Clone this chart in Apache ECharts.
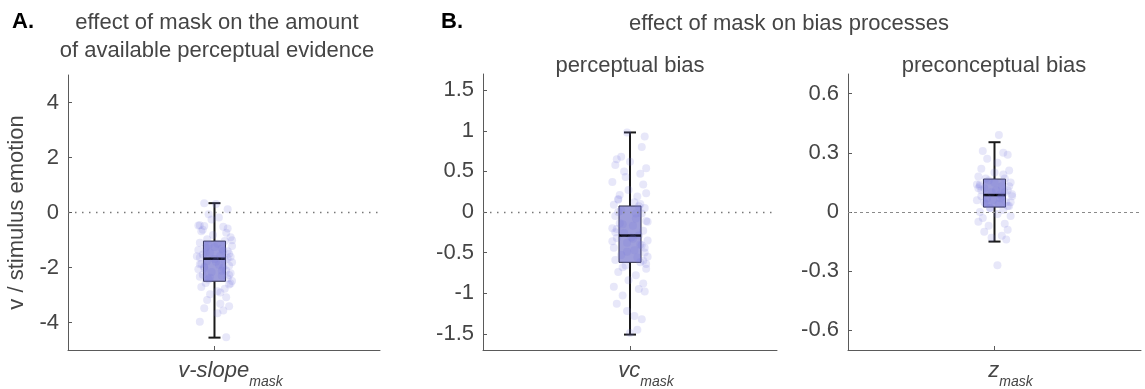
<!DOCTYPE html>
<html>
<head>
<meta charset="utf-8">
<script src="https://cdn.jsdelivr.net/npm/echarts@6/dist/echarts.min.js"></script>
<style>
  html, body { margin: 0; padding: 0; background: #fff; }
  #chart { width: 1145px; height: 389px; }
</style>
</head>
<body>
<div id="chart"></div>
<script>
// box stats: [min whisker, q1, median, q3, max whisker]
const boxSlope = [-4.55, -2.5, -1.68, -1.04, 0.34]
const boxVc = [-1.51, -0.62, -0.29, 0.074, 0.98]
const boxZ = [-0.15, 0.025, 0.086, 0.167, 0.354]

// single-subject estimates (jitter, value)
const slopeValues = [
  0.34, 0.31, 0.12, -0.06, -0.18, -0.25, -0.46, -0.49, -0.52, -0.58,
  -0.68, -0.74, -0.82, -0.9, -0.97, -1.04, -1.1, -1.14, -1.22, -1.27,
  -1.31, -1.36, -1.41, -1.46, -1.5, -1.53, -1.57, -1.61, -1.64, -1.69,
  -1.72, -1.76, -1.81, -1.86, -1.9, -1.94, -1.97, -2.01, -2.06, -2.11,
  -2.16, -2.21, -2.26, -2.3, -2.34, -2.39, -2.44, -2.49, -2.56, -2.62,
  -2.71, -2.77, -2.86, -2.97, -3.08, -3.18, -3.32, -3.41, -3.48, -3.56,
  -3.66, -3.97, -4.54, -1.18, -1.39, -1.59, -1.79, -2.03, -2.27, -0.63,
  -2.91, -1.01, -1.25, -1.45, -1.67, -1.88, -2.12, -2.37, -0.47, -2.58
]
const slopeJitter = [
  -0.07, 0.01, 0.09, -0.04, 0.03, -0.02, -0.1, -0.07, 0.06, 0.09,
  -0.09, 0.08, -0.01, 0.11, -0.05, 0.07, -0.1, 0.02, 0.12, -0.06,
  0.05, -0.11, 0.09, -0.03, 0.1, -0.08, 0.04, 0.11, -0.1, 0.0,
  0.07, -0.05, 0.12, -0.09, 0.03, 0.1, -0.07, 0.06, -0.11, 0.08,
  -0.02, 0.11, -0.08, 0.05, -0.1, 0.09, -0.04, 0.12, -0.06, 0.1,
  -0.09, 0.07, 0.02, -0.03, 0.08, -0.05, 0.04, 0.1, -0.07, 0.06,
  0.02, -0.1, 0.08, -0.04, 0.06, -0.12, 0.01, -0.07, 0.1, -0.08,
  0.04, 0.12, 0.0, -0.06, 0.09, -0.1, 0.05, -0.03, -0.11, 0.11
]
const vcValues = [
  0.98, 0.93, 0.8, 0.68, 0.65, 0.62, 0.58, 0.54, 0.5, 0.47,
  0.43, 0.37, 0.34, 0.27, 0.23, 0.19, 0.15, 0.12, 0.09, 0.05,
  0.02, -0.02, -0.05, -0.08, -0.11, -0.14, -0.17, -0.2, -0.23, -0.26,
  -0.29, -0.32, -0.35, -0.38, -0.41, -0.44, -0.47, -0.5, -0.53, -0.56,
  -0.59, -0.62, -0.66, -0.7, -0.74, -0.78, -0.84, -0.88, -0.92, -0.95,
  -0.98, -1.03, -1.13, -1.22, -1.28, -1.32, -1.45, -1.49, -0.12, -0.36,
  -0.44, 0.0, -0.25, -0.55, 0.1, -0.68, -0.6, 0.21, -0.31, -0.02,
  -0.15, -0.4, -0.21, -0.49, 0.07, -0.33, -0.64, 0.16
]
const vcJitter = [
  -0.02, 0.1, 0.08, -0.06, -0.09, 0.0, -0.1, 0.11, -0.04, 0.07,
  -0.03, -0.12, 0.09, -0.01, 0.11, 0.05, -0.08, 0.03, -0.11, 0.1,
  -0.06, 0.08, -0.1, 0.04, 0.11, -0.07, 0.02, -0.12, 0.09, -0.04,
  0.06, -0.09, 0.12, -0.02, 0.08, -0.11, 0.03, 0.1, -0.06, 0.05,
  -0.1, 0.07, -0.03, 0.11, -0.08, 0.04, -0.01, 0.09, -0.11, 0.06,
  0.1, -0.05, -0.09, -0.02, 0.03, 0.08, 0.05, 0.0, 0.12, -0.12,
  0.1, -0.08, -0.1, 0.12, 0.07, -0.05, 0.09, -0.07, 0.01, 0.04,
  -0.05, 0.07, -0.09, -0.02, 0.06, 0.02, 0.11, -0.08
]
const zValues = [
  0.39, 0.31, 0.3, 0.29, 0.27, 0.25, 0.22, 0.21, 0.2, 0.18,
  0.17, 0.16, 0.15, 0.14, 0.13, 0.12, 0.11, 0.1, 0.09, 0.08,
  0.07, 0.06, 0.05, 0.04, 0.03, 0.02, 0.01, 0.0, -0.01, -0.02,
  -0.03, -0.05, -0.06, -0.07, -0.09, -0.1, -0.12, -0.13, -0.14, -0.27,
  0.15, 0.13, 0.11, 0.09, 0.07, 0.05, 0.12, 0.1, 0.06, 0.04,
  0.17, 0.03, 0.08, 0.14, 0.02, 0.19, 0.11, 0.05, 0.08, 0.13
]
const zJitter = [
  0.03, -0.08, 0.06, 0.09, -0.05, 0.02, -0.09, 0.1, 0.0, -0.11,
  0.07, -0.04, 0.11, -0.1, 0.05, -0.07, 0.09, -0.02, 0.12, -0.09,
  0.04, -0.12, 0.08, -0.06, 0.1, -0.03, 0.06, -0.1, 0.02, 0.11,
  -0.08, -0.11, 0.07, -0.04, 0.09, -0.07, 0.05, -0.02, 0.08, 0.02,
  0.0, 0.1, -0.09, 0.04, -0.05, 0.11, -0.11, 0.07, -0.01, 0.03,
  -0.06, 0.09, 0.12, -0.12, -0.03, 0.06, 0.01, -0.07, 0.05, -0.1
]

const slopeTicks = [-4, -2, 0, 2, 4]
const vcTicks = [-1.5, -1, -0.5, 0, 0.5, 1, 1.5]
const zTicks = [-0.6, -0.3, 0, 0.3, 0.6]

const FONT = 'Liberation Sans'
const textColor = '#454545'
const axisColor = '#5a5a5a'

const chart = echarts.init(document.getElementById('chart'))

function renderBox(params, api) {
  const x = api.value(0)
  const pMin = api.coord([x, api.value(1)])
  const pQ1 = api.coord([x, api.value(2)])
  const pMed = api.coord([x, api.value(3)])
  const pQ3 = api.coord([x, api.value(4)])
  const pMax = api.coord([x, api.value(5)])
  const cx = pMed[0]
  const half = 11
  const cap = 6
  const lineStyle = { stroke: '#1a1a1a', lineWidth: 2 }
  return {
    type: 'group',
    children: [
      { type: 'line', shape: { x1: cx, y1: pMax[1], x2: cx, y2: pQ3[1] }, style: lineStyle },
      { type: 'line', shape: { x1: cx, y1: pQ1[1], x2: cx, y2: pMin[1] }, style: lineStyle },
      { type: 'line', shape: { x1: cx - cap, y1: pMax[1], x2: cx + cap, y2: pMax[1] }, style: lineStyle },
      { type: 'line', shape: { x1: cx - cap, y1: pMin[1], x2: cx + cap, y2: pMin[1] }, style: lineStyle },
      {
        type: 'rect',
        shape: { x: cx - half, y: pQ3[1], width: half * 2, height: pQ1[1] - pQ3[1] },
        style: { fill: '#9e9edb', stroke: '#2d2d4a', lineWidth: 1 }
      },
      {
        type: 'line',
        shape: { x1: cx - half, y1: pMed[1], x2: cx + half, y2: pMed[1] },
        style: { stroke: '#000', lineWidth: 2.5 }
      }
    ]
  }
}

function pairs(jit, vals) {
  return vals.map((v, i) => [jit[i], v])
}

const grids = [
  { left: 68, top: 75, width: 312, height: 276 },
  { left: 483, top: 74, width: 294, height: 277 },
  { left: 848, top: 74, width: 293, height: 277 }
]

const xLabel = (main) => ({
  show: true,
  customValues: [0],
  margin: 10,
  formatter: () => '{pad|}{it|' + main + '}{sub|mask}',
  rich: {
    pad: { width: 32 },
    it: { fontFamily: FONT, fontStyle: 'italic', fontSize: 22, color: textColor, verticalAlign: 'bottom', lineHeight: 22 },
    sub: { fontFamily: FONT, fontStyle: 'italic', fontSize: 14, color: textColor, verticalAlign: 'bottom', lineHeight: 22, padding: [0, 0, -7, 0] }
  }
})

function xAxisFor(gridIndex, min, max, main) {
  return {
    type: 'value',
    gridIndex,
    min,
    max,
    axisLine: { show: true, onZero: false, lineStyle: { color: axisColor, width: 1 } },
    axisTick: { show: true, inside: true, length: 4, customValues: [0], lineStyle: { color: axisColor } },
    splitLine: { show: false },
    axisLabel: xLabel(main)
  }
}

function yAxisFor(gridIndex, min, max, ticks, name) {
  return {
    type: 'value',
    gridIndex,
    min,
    max,
    name: name || '',
    nameLocation: 'middle',
    nameGap: 40,
    nameTextStyle: { fontFamily: FONT, fontSize: 22, color: textColor },
    axisLine: { show: true, onZero: false, lineStyle: { color: axisColor, width: 1 } },
    axisTick: { show: true, inside: true, length: 4, customValues: ticks, lineStyle: { color: axisColor } },
    splitLine: { show: false },
    axisLabel: {
      customValues: ticks,
      margin: 9,
      fontFamily: FONT,
      fontSize: 22,
      color: textColor
    }
  }
}

function zeroLine(style) {
  return {
    silent: true,
    symbol: 'none',
    label: { show: false },
    data: [{ yAxis: 0 }],
    lineStyle: style
  }
}

function panelSeries(idx, box, jit, vals, zeroStyle) {
  return [
    {
      type: 'scatter',
      xAxisIndex: idx,
      yAxisIndex: idx,
      data: [],
      markLine: zeroLine(zeroStyle),
      z: 1
    },
    {
      type: 'custom',
      xAxisIndex: idx,
      yAxisIndex: idx,
      renderItem: renderBox,
      data: [[0].concat(box)],
      encode: { x: 0, y: [1, 2, 3, 4, 5] },
      z: 2
    },
    {
      type: 'scatter',
      xAxisIndex: idx,
      yAxisIndex: idx,
      data: pairs(jit, vals),
      symbolSize: 8,
      itemStyle: { color: 'rgba(118, 118, 222, 0.22)' },
      z: 3
    }
  ]
}

const dotted = { color: '#777', width: 1.3, type: [1.5, 5.5] }

const option = {
  animation: false,
  grid: grids,
  xAxis: [
    xAxisFor(0, -1, 1.13, 'v-slope'),
    xAxisFor(1, -1, 1, 'vc'),
    xAxisFor(2, -1, 1, 'z')
  ],
  yAxis: [
    yAxisFor(0, -5, 5, slopeTicks, 'v / stimulus emotion'),
    yAxisFor(1, -1.7, 1.7, vcTicks),
    yAxisFor(2, -0.7, 0.7, zTicks)
  ],
  series: [
    ...panelSeries(0, boxSlope, slopeJitter, slopeValues, dotted),
    ...panelSeries(1, boxVc, vcJitter, vcValues, dotted),
    ...panelSeries(2, boxZ, zJitter, zValues, { color: '#8a8a8a', width: 1, type: [3, 3] })
  ],
  graphic: [
    { type: 'text', x: 12, y: 11, style: { text: 'A.', font: 'bold 22px ' + FONT, fill: '#000' } },
    {
      type: 'text', x: 217, y: 9,
      style: {
        text: 'effect of mask on the amount\nof available perceptual evidence',
        font: '22px ' + FONT, fill: textColor, align: 'center', lineHeight: 28
      }
    },
    { type: 'text', x: 441, y: 11, style: { text: 'B.', font: 'bold 22px ' + FONT, fill: '#000' } },
    {
      type: 'text', x: 789, y: 13,
      style: { text: 'effect of mask on bias processes', font: '22px ' + FONT, fill: textColor, align: 'center' }
    },
    {
      type: 'text', x: 630, y: 55,
      style: { text: 'perceptual bias', font: '22px ' + FONT, fill: textColor, align: 'center' }
    },
    {
      type: 'text', x: 994, y: 55,
      style: { text: 'preconceptual bias', font: '22px ' + FONT, fill: textColor, align: 'center' }
    }
  ]
}

chart.setOption(option)
</script>
</body>
</html>
